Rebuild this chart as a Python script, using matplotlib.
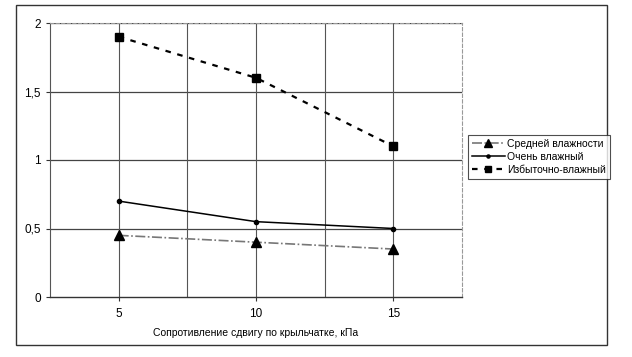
import matplotlib.pyplot as plt
from matplotlib.patches import Rectangle

# Данные
categories = ['5', '10', '15']
srednei = [0.45, 0.40, 0.35]
ochen = [0.70, 0.55, 0.50]
izbytochno = [1.90, 1.60, 1.10]
y_ticks = [0, 0.5, 1, 1.5, 2]
y_labels = ['0', '0,5', '1', '1,5', '2']

plt.rcParams['font.family'] = ['Liberation Sans', 'DejaVu Sans']
plt.rcParams['font.size'] = 8

fig = plt.figure(figsize=(6.32, 3.57), dpi=100)
ax = fig.add_axes([50 / 632, 1 - 297 / 357, 412 / 632, 274 / 357])

# внешняя рамка
fig.patches.append(Rectangle((16 / 632, 1 - 345 / 357), 591 / 632, 340 / 357,
                             transform=fig.transFigure, fill=False,
                             edgecolor='#333333', linewidth=1.0))

x = list(range(1, len(categories) + 1))

# сетка
for yv in y_ticks[1:]:
    ax.axhline(yv, color='#444444', linewidth=0.9, zorder=1)
for xv in [1, 1.5, 2, 2.5, 3]:
    ax.axvline(xv, color='#555555', linewidth=0.8, zorder=1)

ax.plot(x, srednei, color='#777777', linestyle=(0, (6, 1.5, 1, 1.5)), linewidth=1.2,
        marker='^', markersize=7, markerfacecolor='black', markeredgecolor='black',
        label='Средней влажности', zorder=3)
ax.plot(x, ochen, color='black', linestyle='-', linewidth=1.1,
        marker='o', markersize=3, label='Очень влажный', zorder=3)
ax.plot(x, izbytochno, color='black', linestyle=(0, (2.5, 3)), linewidth=1.6,
        marker='s', markersize=6, label='Избыточно-влажный', zorder=3)

ax.set_xlim(0.5, 3.5)
ax.set_ylim(0, 2)
ax.set_xticks(x)
ax.set_xticklabels(categories)
ax.set_yticks(y_ticks)
ax.set_yticklabels(y_labels)
ax.tick_params(axis='both', length=3, color='#333333', labelsize=8.5)
ax.tick_params(axis='x', pad=5)

for side in ['top', 'right']:
    ax.spines[side].set_color('#999999')
    ax.spines[side].set_linestyle((0, (3, 2)))
    ax.spines[side].set_linewidth(0.8)
ax.spines['left'].set_color('#555555')
ax.spines['bottom'].set_color('#333333')
ax.spines['bottom'].set_linewidth(1.0)

ax.set_xlabel('Сопротивление сдвигу по крыльчатке, кПа', fontsize=7.5, labelpad=6)

leg = fig.legend(loc='upper left', bbox_to_anchor=(468 / 632, 1 - 135 / 357),
                 frameon=True, fancybox=False, edgecolor='#222222',
                 fontsize=7.5, handlelength=3.2, borderpad=0.35, markerscale=0.75,
                 labelspacing=0.3, handletextpad=0.2, borderaxespad=0)
leg.get_frame().set_linewidth(0.8)

fig.savefig('out.png', dpi=100)
